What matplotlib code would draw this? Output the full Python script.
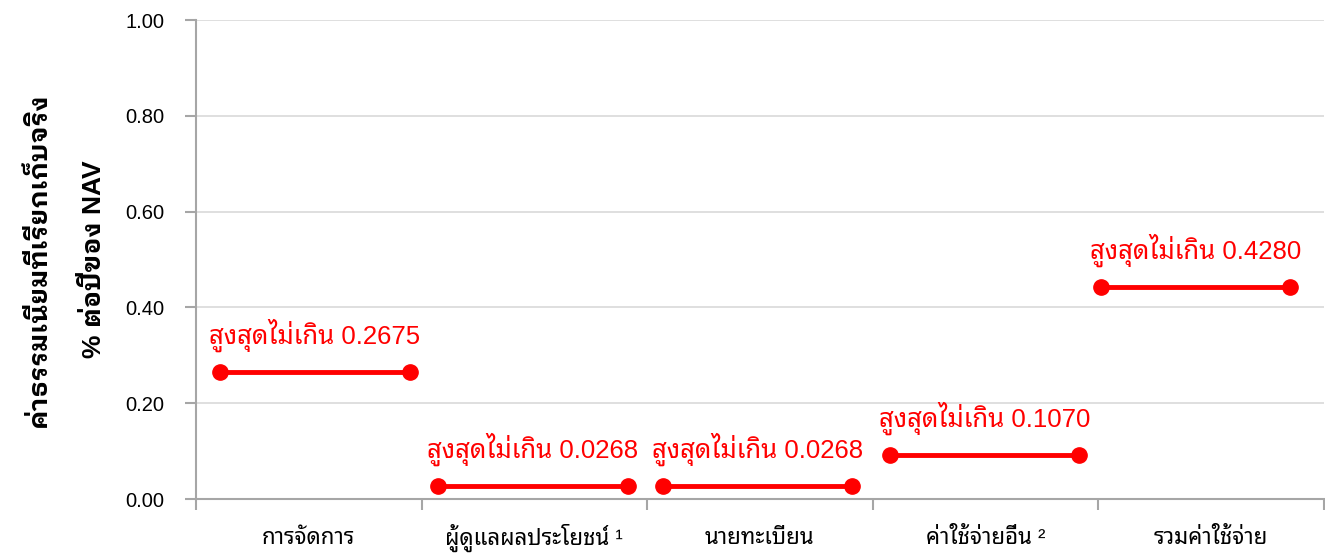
import matplotlib
matplotlib.use('Agg')
import matplotlib.pyplot as plt
import warnings

warnings.filterwarnings('ignore')

## fonts: latin/digits in an Arial look-alike, Thai from a looped Thai face
FONTS = ['Liberation Sans', 'Noto Sans Thai Looped', 'IBM Plex Sans Thai Looped', 'DejaVu Sans']
BOLD_FONTS = ['Liberation Sans', 'IBM Plex Sans Thai Looped', 'Noto Sans Thai Looped', 'DejaVu Sans']
plt.rcParams['font.family'] = FONTS

## data
categories = ['การจัดการ', 'ผู้ดูแลผลประโยชน์ ¹', 'นายทะเบียน', 'ค่าใช้จ่ายอื่น ²', 'รวมค่าใช้จ่าย']
values = [0.265, 0.028, 0.028, 0.092, 0.443]
labels = ['0.2675', '0.0268', '0.0268', '0.1070', '0.4280']
seg_start = [0.106, 1.073, 2.070, 3.076, 4.011]
seg_end = [0.949, 1.915, 2.908, 3.914, 4.849]
yticks = [0.0, 0.2, 0.4, 0.6, 0.8, 1.0]

red = '#ff0000'
grey = '#a6a6a6'

fig = plt.figure(figsize=(13.25, 5.56), dpi=100)
ax = fig.add_axes([0.148, 0.1025, 0.851, 0.8615])

for x0, x1, v, lab in zip(seg_start, seg_end, values, labels):
    ax.plot([x0, x1], [v, v], color=red, lw=3.5, solid_capstyle='butt', zorder=3)
    ax.plot([x0, x1], [v, v], 'o', color=red, ms=11, zorder=4)
    ax.text((x0 + x1) / 2, v + 0.076, 'สูงสุดไม่เกิน ' + lab, color=red,
            fontsize=18.5, ha='center', va='center')

ax.set_xlim(0, len(categories))
ax.set_ylim(0, 1.0)
ax.set_yticks(yticks)
ax.set_yticklabels(['%.2f' % t for t in yticks], fontsize=14.5)
ax.set_xticks(range(len(categories) + 1))
ax.set_xticklabels([])
for i, c in enumerate(categories):
    ax.text(i + 0.5, -0.082, c, fontsize=16, ha='center', va='center',
            transform=ax.transData, clip_on=False)

ax.grid(axis='y', color='#d9d9d9', lw=1.2)
ax.set_axisbelow(True)
for s in ['top', 'right']:
    ax.spines[s].set_visible(False)
for s in ['left', 'bottom']:
    ax.spines[s].set_color(grey)
    ax.spines[s].set_linewidth(1.5)
ax.tick_params(axis='both', direction='out', length=8, width=1.5, color=grey)
ax.tick_params(axis='y', pad=15)

ax.set_ylabel('ค่าธรรมเนียมที่เรียกเก็บจริง\n% ต่อปีของ NAV', fontsize=19,
              family=BOLD_FONTS, fontweight='bold', linespacing=2.5, labelpad=14)

fig.savefig('out.png')
